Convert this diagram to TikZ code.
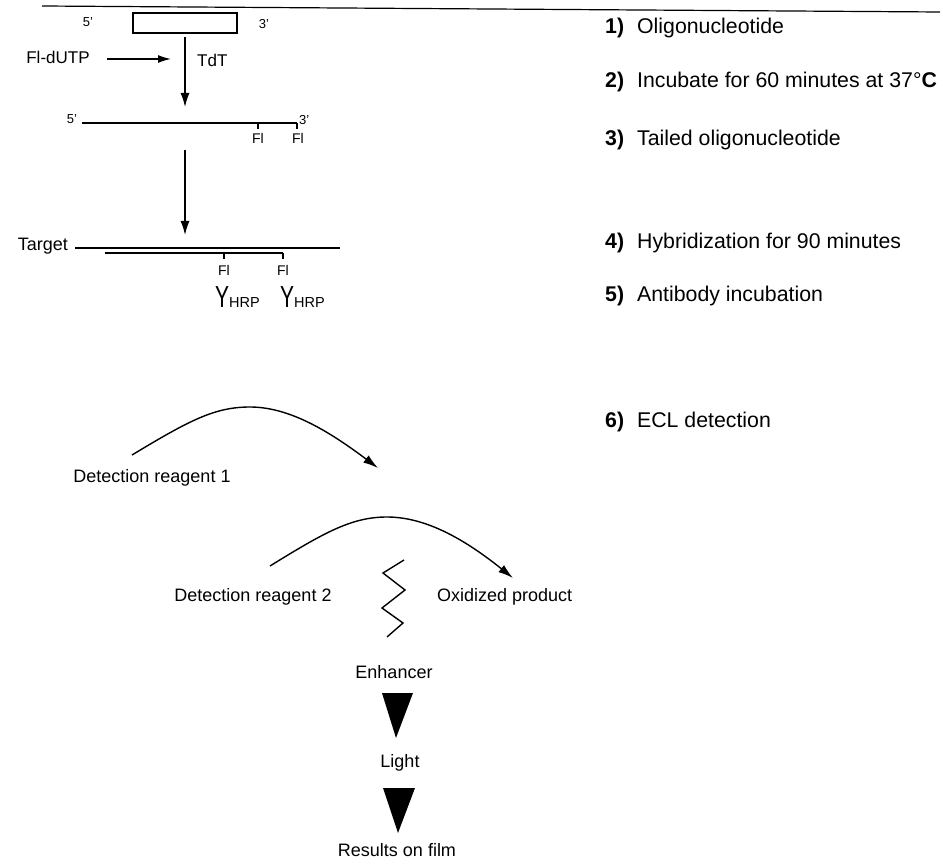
\documentclass[tikz,border=0pt]{standalone}
\usepackage{fontspec}
\setmainfont{Liberation Sans}
\usetikzlibrary{arrows.meta}
\begin{document}
\begin{tikzpicture}[x=1pt,y=-1pt,
  strand/.style={line width=1.3pt},
  arr/.style={line width=1.4pt,-{Latex[length=14pt,width=9pt]}},
  lbl/.style={inner sep=0pt,font=\fontsize{18}{20}\selectfont},
  small/.style={inner sep=0pt,font=\fontsize{13}{15}\selectfont},
  fl/.style={inner sep=0pt,font=\fontsize{14}{16}\selectfont},
  stepitem/.style={anchor=west,inner sep=0pt,font=\fontsize{21.3}{24}\selectfont},
  abody/.style={anchor=base west,inner sep=0pt},
  bigtri/.style={fill=black}
]
\useasboundingbox (0,0) rectangle (943,866);

% top rule of the scanned page
\draw[line width=1.2pt] (42,6) -- (940,12);

% right-hand steps
\node[stepitem] (s1) at (605,28)  {\textbf{1)}\hspace{13pt}Oligonucleotide};
\node[stepitem] (s2) at (605,82)  {\textbf{2)}\hspace{13pt}Incubate for 60 minutes at 37°\textbf{C}};
\node[stepitem] (s3) at (605,140) {\textbf{3)}\hspace{13pt}Tailed oligonucleotide};
\node[stepitem] (s4) at (605,243) {\textbf{4)}\hspace{13pt}Hybridization for 90 minutes};
\node[stepitem] (s5) at (605,296) {\textbf{5)}\hspace{13pt}Antibody incubation};
\node[stepitem] (s6) at (605,422) {\textbf{6)}\hspace{13pt}ECL detection};

% 1) oligonucleotide
\node[draw,line width=1.3pt,minimum width=104pt,minimum height=20pt,inner sep=0pt] (oligo) at (185,23) {};
\node[small] (o5) at (88,22) {5'};
\node[small] (o3) at (264,24) {3'};

% TdT step
\node[font=\fontsize{17}{19}\selectfont,inner sep=0pt] (fldutp) at (58,57) {Fl-dUTP};
\node[font=\fontsize{17}{19}\selectfont,inner sep=0pt,anchor=west] (tdt) at (197,60) {TdT};
\coordinate (fdA) at (107,59);
\coordinate (fdB) at (171,59);
\draw[line width=1.4pt,-{Latex[length=13pt,width=8pt]}] (fdA) -- (fdB);
\coordinate (a1s) at (185,37);
\coordinate (a1e) at (185,107);
\draw[arr] (a1s) -- (a1e);

% 3) tailed oligonucleotide
\node[small] (t5) at (72,119) {5'};
\coordinate (tL) at (82,123);
\coordinate (tR) at (297,123);
\coordinate (tk1) at (258,123);
\coordinate (tk1b) at (258,129);
\coordinate (tk2b) at (297,129);
\draw[strand] (tL) -- (tR);
\draw[line width=1.1pt] (tk1) -- (tk1b);
\draw[line width=1.1pt] (tR) -- (tk2b);
\node[small,anchor=west] (t3) at (299,120) {3'};
\node[fl] (tf1) at (258,138) {Fl};
\node[fl] (tf2) at (298,138) {Fl};

\coordinate (a2s) at (185,150);
\coordinate (a2e) at (185,235);
\draw[arr] (a2s) -- (a2e);

% 4)/5) hybridization and antibody
\node[lbl,anchor=east] (target) at (68,246) {Target};
\coordinate (gL) at (75,248);
\coordinate (gR) at (340,248);
\draw[strand] (gL) -- (gR);
\coordinate (pL) at (105,253);
\coordinate (pR) at (283,253);
\coordinate (pk1) at (224,253);
\coordinate (pk1b) at (224,259);
\coordinate (pk2b) at (283,259);
\draw[strand] (pL) -- (pR);
\draw[line width=1.1pt] (pk1) -- (pk1b);
\draw[line width=1.1pt] (pR) -- (pk2b);
\node[fl] (pf1) at (224,270) {Fl};
\node[fl] (pf2) at (283,270) {Fl};
\node[abody] (ab1) at (215,308) {\scalebox{1}[1.45]{\fontsize{21}{21}\selectfont Y}\fontsize{14.5}{15}\selectfont HRP};
\node[abody] (ab2) at (280,308) {\scalebox{1}[1.45]{\fontsize{21}{21}\selectfont Y}\fontsize{14.5}{15}\selectfont HRP};

% 6) ECL detection
\node[lbl] (dr1) at (152,478) {Detection reagent 1};
\coordinate (c1s) at (132,455);
\coordinate (c1e) at (378,468);
\draw[line width=1.4pt,-{Latex[length=15pt,width=9pt]}] (c1s) .. controls (190,420) and (215,407) .. (250,407) .. controls (290,407) and (330,432) .. (c1e);

\node[lbl] (dr2) at (253,597) {Detection reagent 2};
\node[lbl,anchor=west] (ox) at (437,597) {Oxidized product};
\coordinate (c2s) at (270,566);
\coordinate (c2e) at (513,578);
\draw[line width=1.4pt,-{Latex[length=15pt,width=9pt]}] (c2s) .. controls (325,532) and (352,517) .. (387,517) .. controls (428,517) and (468,542) .. (c2e);

\draw[line width=1.4pt,line join=miter] (404,560) -- (383,573) -- (405,590) -- (382,608) -- (403,623) -- (387,637);

\node[lbl] (enh) at (394,672) {Enhancer};
\fill[bigtri] (382,693) -- (413,693) -- (396,738) -- cycle;
\node[lbl] (light) at (400,763) {Light};
\fill[bigtri] (383,788) -- (415,788) -- (398,833) -- cycle;
\node[lbl] (film) at (397,850) {Results on film};
\end{tikzpicture}
\end{document}
